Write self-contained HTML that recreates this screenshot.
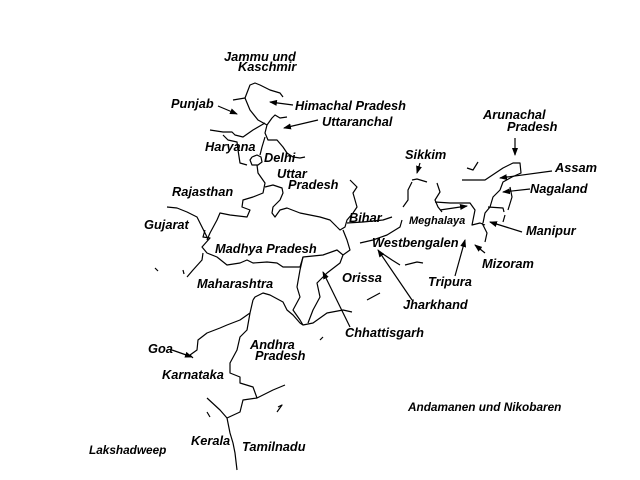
<!DOCTYPE html>
<html><head><meta charset="utf-8"><style>
html,body{margin:0;padding:0;background:#fff;}
svg{display:block}
text{font-family:"Liberation Sans",sans-serif;font-weight:bold;font-style:italic;font-size:12.8px;fill:#000}
.b{fill:none;stroke:#000;stroke-width:1.2;stroke-linejoin:round}
.a{stroke:#000;stroke-width:1.2;marker-end:url(#m)}
</style></head><body>
<svg width="640" height="480" viewBox="0 0 640 480">
<defs><marker id="m" markerWidth="8" markerHeight="6" refX="7" refY="3" orient="auto" markerUnits="userSpaceOnUse"><path d="M0,0 L8,3 L0,6z" fill="#000"/></marker></defs>
<g class="b">
<polyline points="233,100 245,98"/>
<polyline points="245,98 250,85 255,83 260,85 270,90 280,93 283,97"/>
<polyline points="245,98 250,110 258,120 267,125 272,118 275,115 280,118 287,117"/>
<polyline points="210,130 223,132 232,132 235,135 243,137 253,130 265,123"/>
<polyline points="223,135 228,140 237,142 238,150 240,163 247,165"/>
<polyline points="267,125 265,133 268,140 277,140 283,147 287,153 293,157 300,158 305,157"/>
<polyline points="252,157 257,155 261,157 262,162 258,165 252,165 250,160 252,157"/>
<polyline points="260,155 262,147 265,137"/>
<polyline points="257,165 258,173 265,183 263,193 253,197 243,200 242,207 250,210 247,217 230,215 220,213 217,220 210,233 207,240"/>
<polyline points="265,187 273,185 282,188 283,193 280,200 273,207 272,213 275,217 280,210 287,208 300,213 320,217 330,220 337,227"/>
<polyline points="167,207 177,208 187,212 197,217 202,227 207,237"/>
<polyline points="350,180 357,187 353,193 355,200 357,207 353,213 347,220 345,227 340,230 337,227"/>
<polyline points="347,223 363,222 383,220 392,217"/>
<polyline points="403,207 408,200 408,190 412,182"/>
<polyline points="412,180 417,179 427,182"/>
<polyline points="437,183 440,192 435,200 438,207 442,212"/>
<polyline points="435,202 450,203 470,203 475,210 473,220 472,225 480,223 485,225"/>
<polyline points="402,220 400,227 387,235 373,240 360,243"/>
<polyline points="380,252 392,260 400,265"/>
<polyline points="405,265 417,262 423,263"/>
<polyline points="462,180 485,180 503,168 513,163 520,163 521,173 512,177 503,182 500,190 493,197 490,207 485,213 483,223"/>
<polyline points="467,168 473,170 478,162"/>
<polyline points="488,207 503,208 504,212"/>
<polyline points="510,187 512,197 508,210" />
<polyline points="505,215 503,222"/>
<polyline points="482,223 487,233 485,242"/>
<polyline points="205,230 203,237 210,238 202,247 207,253 217,257 227,265 240,263 247,260 253,263 267,262 277,263 283,267 300,267 303,257 323,255 337,250 343,255"/>
<polyline points="203,253 202,260 193,270 187,277"/>
<polyline points="303,257 300,270 297,287 300,297 293,310 300,320 303,325 313,323 327,313 343,310 352,312"/>
<polyline points="343,255 340,263 327,273 317,283 320,297 313,310 308,323"/>
<polyline points="343,230 347,240 350,250 343,255"/>
<polyline points="253,300 255,297 263,293 270,295 283,302 287,310 293,315 300,323 303,325"/>
<polyline points="253,300 250,313 240,320 227,325 220,328 207,333 198,340 197,350 190,355 193,358"/>
<polyline points="250,313 247,330 240,337 237,350 230,363 230,373 240,377 240,383 253,387 257,398 273,390 285,385"/>
<polyline points="257,398 243,400 240,412 227,418 220,410 207,398"/>
<polyline points="227,418 230,433 233,443 235,453 237,470"/>
<polyline points="207,412 210,417"/>
<polyline points="278,407 282,405 277,412"/>
<polyline points="320,340 323,337"/>
<polyline points="367,300 380,293"/>
<polyline points="155,268 158,271"/>
<polyline points="183,270 184,274"/>
</g>
<g>
<line class="a" x1="218" y1="106" x2="237" y2="114"/>
<line class="a" x1="293" y1="105" x2="270" y2="102"/>
<line class="a" x1="318" y1="120" x2="284" y2="128"/>
<line class="a" x1="420" y1="163" x2="417" y2="173"/>
<line class="a" x1="515" y1="138" x2="515" y2="155"/>
<line class="a" x1="552" y1="171" x2="500" y2="178"/>
<line class="a" x1="530" y1="189" x2="503" y2="192"/>
<line class="a" x1="522" y1="232" x2="490" y2="222"/>
<line class="a" x1="485" y1="253" x2="475" y2="245"/>
<line class="a" x1="440" y1="210" x2="467" y2="206"/>
<line class="a" x1="455" y1="276" x2="465" y2="240"/>
<line class="a" x1="412" y1="300" x2="378" y2="250"/>
<line class="a" x1="350" y1="327" x2="323" y2="272"/>
<line class="a" x1="172" y1="350" x2="192" y2="357"/>
</g>
<text x="224" y="61">Jammu und</text>
<text x="238" y="71">Kaschmir</text>
<text x="171" y="108">Punjab</text>
<text x="295" y="110">Himachal Pradesh</text>
<text x="322" y="126">Uttaranchal</text>
<text x="205" y="151">Haryana</text>
<text x="264" y="162">Delhi</text>
<text x="277" y="178">Uttar</text>
<text x="288" y="189">Pradesh</text>
<text x="172" y="196">Rajasthan</text>
<text x="144" y="229">Gujarat</text>
<text x="215" y="253">Madhya Pradesh</text>
<text x="197" y="288">Maharashtra</text>
<text x="349" y="222">Bihar</text>
<text x="409" y="224" style="font-size:11px">Meghalaya</text>
<text x="372" y="247">Westbengalen</text>
<text x="342" y="282">Orissa</text>
<text x="403" y="309">Jharkhand</text>
<text x="428" y="286">Tripura</text>
<text x="345" y="337">Chhattisgarh</text>
<text x="405" y="159">Sikkim</text>
<text x="483" y="119">Arunachal</text>
<text x="507" y="131">Pradesh</text>
<text x="555" y="172">Assam</text>
<text x="530" y="193">Nagaland</text>
<text x="526" y="235">Manipur</text>
<text x="482" y="268">Mizoram</text>
<text x="148" y="353">Goa</text>
<text x="250" y="349">Andhra</text>
<text x="255" y="360">Pradesh</text>
<text x="162" y="379">Karnataka</text>
<text x="191" y="445">Kerala</text>
<text x="242" y="451">Tamilnadu</text>
<text x="89" y="454" style="font-size:11.8px">Lakshadweep</text>
<text x="408" y="411" style="font-size:11.8px">Andamanen und Nikobaren</text>
</svg>
</body></html>
